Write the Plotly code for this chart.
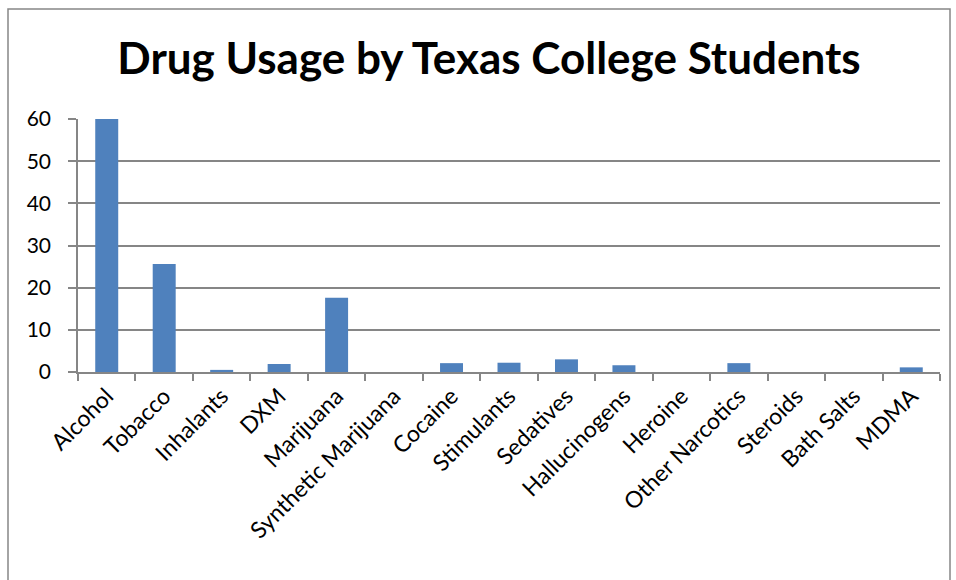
import plotly.graph_objects as go

categories = ["Alcohol", "Tobacco", "Inhalants", "DXM", "Marijuana", "Synthetic Marijuana",
              "Cocaine", "Stimulants", "Sedatives", "Hallucinogens", "Heroine",
              "Other Narcotics", "Steroids", "Bath Salts", "MDMA"]
values = [60, 25.6, 0.5, 1.9, 17.6, 0, 2.1, 2.2, 3.0, 1.6, 0, 2.1, 0, 0, 1.1]
y_ticks = [0, 10, 20, 30, 40, 50, 60]

W, H = 956, 580
L, R, T, B = 78, 16, 119, 208
pw, ph = W - L - R, H - T - B

FONT = "Lato"
GRID = "#868686"

fig = go.Figure(go.Bar(x=categories, y=values, marker=dict(color="#4F81BD", line=dict(width=0))))

fig.update_layout(
    width=W, height=H,
    margin=dict(l=L, r=R, t=T, b=B, pad=0),
    paper_bgcolor="white", plot_bgcolor="white",
    bargap=0.6,
    showlegend=False,
    font=dict(family=FONT, color="black"),
    title=dict(text="<b>Drug Usage by Texas College Students</b>", x=489 / W, xanchor="center",
               y=1 - 59 / H, yanchor="middle", font=dict(size=44, family=FONT, color="black")),
)
fig.update_xaxes(
    type="category", tickangle=-45, tickson="boundaries", ticks="outside", ticklen=7,
    tickcolor=GRID, tickwidth=1.5, showline=True, linecolor=GRID, linewidth=1.5,
    showgrid=False, tickfont=dict(size=23, family=FONT, color="black"),
)
fig.update_yaxes(
    range=[0, 60], tickvals=y_ticks, ticks="outside", ticklen=8, tickcolor=GRID, tickwidth=1.5,
    showline=True, linecolor=GRID, linewidth=1.5, showgrid=True, gridcolor=GRID, gridwidth=1.5,
    zeroline=False, tickfont=dict(size=21, family=FONT, color="black"), ticklabelstandoff=13,
)
# chart outline
fig.add_shape(type="rect", xref="paper", yref="paper",
              x0=(8 - L) / pw, x1=(950 - L) / pw, y0=-2, y1=(H - B - 9) / ph,
              line=dict(color="#868686", width=1.5), fillcolor="rgba(0,0,0,0)", layer="below")

fig.write_html("out.html")
